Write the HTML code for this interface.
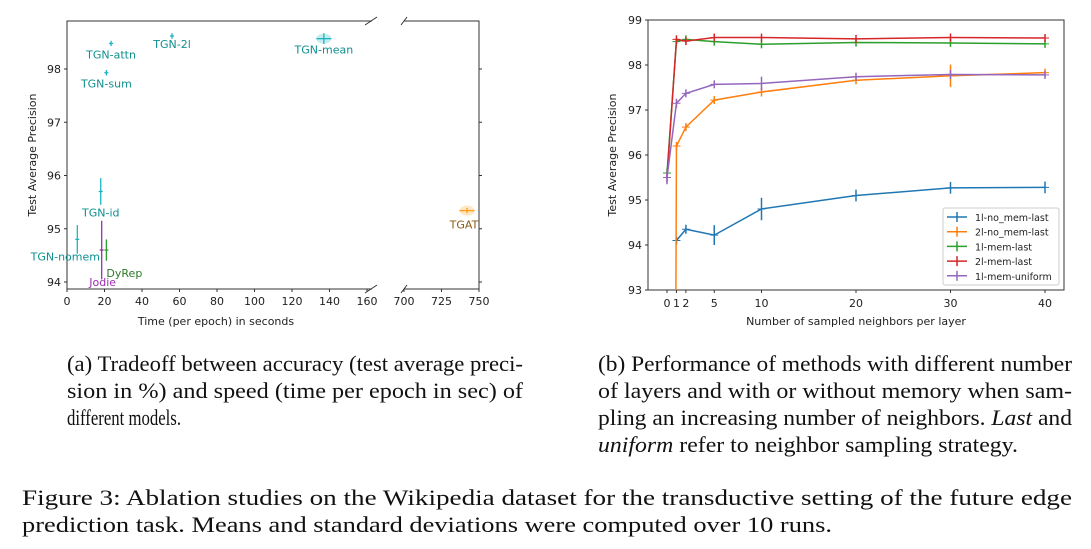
<!DOCTYPE html>
<html><head><meta charset="utf-8"><style>
html,body{margin:0;background:#fff;width:1091px;height:549px;overflow:hidden}
svg{display:block;overflow:hidden}
.t{font-family:"DejaVu Sans",sans-serif;font-size:11px;fill:#222}
.c{font-family:"Liberation Serif",serif;font-size:22px;fill:#111}
</style></head><body>
<svg id="s" width="1091" height="549" xmlns="http://www.w3.org/2000/svg">
<g id="left"></g>
<g id="right"></g>
<g>
<text class="c" x="67" y="371" textLength="456" lengthAdjust="spacingAndGlyphs">(a) Tradeoff between accuracy (test average preci-</text>
<text class="c" x="67" y="398" textLength="456" lengthAdjust="spacingAndGlyphs">sion in %) and speed (time per epoch in sec) of</text>
<text class="c" x="67" y="425" textLength="114" lengthAdjust="spacingAndGlyphs">different models.</text>
<text class="c" x="598" y="371" textLength="474" lengthAdjust="spacingAndGlyphs">(b) Performance of methods with different number</text>
<text class="c" x="598" y="398" textLength="474" lengthAdjust="spacingAndGlyphs">of layers and with or without memory when sam-</text>
<text class="c" x="598" y="425" textLength="474" lengthAdjust="spacingAndGlyphs">pling an increasing number of neighbors. <tspan font-style="italic">Last</tspan> and</text>
<text class="c" x="598" y="452" textLength="420" lengthAdjust="spacingAndGlyphs"><tspan font-style="italic">uniform</tspan> refer to neighbor sampling strategy.</text>
<text class="c" x="22" y="505" textLength="1050" lengthAdjust="spacingAndGlyphs">Figure 3: Ablation studies on the Wikipedia dataset for the transductive setting of the future edge</text>
<text class="c" x="22" y="532" textLength="810" lengthAdjust="spacingAndGlyphs">prediction task. Means and standard deviations were computed over 10 runs.</text>
</g>
</svg>
<script>
// ---- left chart data ----
const modelNames=["TGN-attn","TGN-2l","TGN-mean","TGN-sum","TGN-id","TGN-nomem","Jodie","DyRep","TGAT"];
const modelTime=[23.5,56,137,21,18,5.5,18.5,21,742];
const modelAP=[98.48,98.62,98.57,97.93,95.7,94.8,94.6,94.6,95.34];
const modelTimeErr=[0.5,0.8,4,0.4,0.3,0.2,0.3,0.3,5];
const modelAPErr=[0.05,0.05,0.1,0.05,0.25,0.27,0.55,0.2,0.05];
const leftXTicks=[0,20,40,60,80,100,120,140,160];
const leftXTicks2=[700,725,750];
const leftYTicks=[94,95,96,97,98];
// ---- right chart data ----
const kVals=[0,1,2,5,10,20,30,40];
const seriesNames=["1l-no_mem-last","2l-no_mem-last","1l-mem-last","2l-mem-last","1l-mem-uniform"];
const sNoMem1=[null,94.1,94.35,94.22,94.8,95.1,95.27,95.28];
const sNoMem2=[40,96.2,96.62,97.22,97.4,97.66,97.76,97.83];
const sMem1=[95.6,98.52,98.57,98.52,98.46,98.5,98.49,98.47];
const sMem2=[95.5,98.57,98.53,98.61,98.61,98.58,98.61,98.6];
const sUni=[95.5,97.15,97.37,97.57,97.59,97.74,97.79,97.78];
const eNoMem1=[0,0.05,0.1,0.22,0.25,0.13,0.13,0.13];
const eNoMem2=[0,0.05,0.08,0.05,0.1,0.08,0.25,0.08];
const eMem1=[0.1,0.04,0.04,0.05,0.05,0.04,0.05,0.05];
const eMem2=[0.1,0.04,0.06,0.05,0.05,0.06,0.05,0.06];
const eUni=[0.15,0.1,0.08,0.08,0.15,0.08,0.1,0.08];
const rightXTicks=[0,1,2,5,10,20,30,40];
const rightYTicks=[93,94,95,96,97,98,99];

const NS="http://www.w3.org/2000/svg";
function mk(p,tag,a){const e=document.createElementNS(NS,tag);for(const k in a)e.setAttribute(k,a[k]);p.appendChild(e);return e;}
function txt(p,x,y,s,anchor,extra){const e=mk(p,"text",Object.assign({x:x,y:y,class:"t","text-anchor":anchor||"middle"},extra||{}));e.textContent=s;return e;}

// LEFT
const L=document.getElementById("left");
const lx=v=>v<=160?67+v*300/160:404+(v-700)*75/50;
const ly=v=>282-(v-94)*53.25;
const lTop=21,lBot=289;
mk(L,"path",{d:`M372 ${lTop}H67V${lBot}H372M404 ${lTop}H479V${lBot}H404`,fill:"none",stroke:"#333","stroke-width":1});
mk(L,"path",{d:`M365 ${lTop+4}L377 ${lTop-4}M365 ${lBot+4}L377 ${lBot-4}M401 ${lTop+4}L407 ${lTop-4}M401 ${lBot+4}L407 ${lBot-4}`,stroke:"#333","stroke-width":1});
leftXTicks.forEach(v=>{const g=mk(L,"g",{});mk(g,"line",{x1:lx(v),x2:lx(v),y1:lBot,y2:lBot+3,stroke:"#333"});txt(g,lx(v),lBot+16,String(v));});
leftXTicks2.forEach(v=>{const g=mk(L,"g",{});mk(g,"line",{x1:lx(v),x2:lx(v),y1:lBot,y2:lBot+3,stroke:"#333"});txt(g,lx(v),lBot+16,String(v));});
leftYTicks.forEach(v=>{const g=mk(L,"g",{});mk(g,"line",{x1:64,x2:67,y1:ly(v),y2:ly(v),stroke:"#333"});mk(g,"line",{x1:479,x2:482,y1:ly(v),y2:ly(v),stroke:"#333"});txt(g,61,ly(v)+4,String(v),"end");});
let e=txt(L,216,325,"Time (per epoch) in seconds");
e=txt(L,36,155,"Test Average Precision","middle",{transform:"rotate(-90 36 155)"});
const mColors=["#17b5c0","#17b5c0","#17b5c0","#17b5c0","#17b5c0","#17b5c0","#9b2fae","#2ca02c","#ff9f1a"];
const lblColors=["#0f8f8f","#0f8f8f","#0f8f8f","#0f8f8f","#0f8f8f","#0f8f8f","#9b2fae","#2a7a2a","#8a5a10"];
const lblOff=[[0,15],[0,12],[0,15],[0,15],[0,25],[-12,21],[1,36],[18,27],[-3,18]];
modelNames.forEach((n,i)=>{const g=mk(L,"g",{});
 const x=lx(modelTime[i]),y=ly(modelAP[i]);const hx=Math.max(2,Math.abs(lx(modelTime[i]+modelTimeErr[i])-x));const hy=Math.max(2,modelAPErr[i]*53.25);
 if(hx>5)mk(g,"ellipse",{cx:x,cy:y,rx:hx,ry:5,fill:mColors[i],opacity:0.25});
 mk(g,"line",{x1:x-hx,x2:x+hx,y1:y,y2:y,stroke:mColors[i],"stroke-width":1.3});
 mk(g,"line",{x1:x,x2:x,y1:y-hy,y2:y+hy,stroke:mColors[i],"stroke-width":1.3});
 txt(g,x+lblOff[i][0],y+lblOff[i][1],n,"middle",{style:"fill:"+lblColors[i]});});

// RIGHT
const R=document.getElementById("right");
const rx=v=>667+v*9.45;
const ry=v=>290-(v-93)*45;
mk(R,"defs",{}).innerHTML='<clipPath id="rc"><rect x="648" y="20" width="416" height="270"/></clipPath>';
mk(R,"rect",{x:648,y:20,width:416,height:270,fill:"none",stroke:"#333"});
rightXTicks.forEach(v=>{const g=mk(R,"g",{});mk(g,"line",{x1:rx(v),x2:rx(v),y1:290,y2:293,stroke:"#333"});txt(g,rx(v),307,String(v));});
rightYTicks.forEach(v=>{const g=mk(R,"g",{});mk(g,"line",{x1:645,x2:648,y1:ry(v),y2:ry(v),stroke:"#333"});txt(g,642,ry(v)+4,String(v),"end");});
e=txt(R,856,325,"Number of sampled neighbors per layer");
e=txt(R,616,155,"Test Average Precision","middle",{transform:"rotate(-90 616 155)"});
const sData=[sNoMem1,sNoMem2,sMem1,sMem2,sUni],sErr=[eNoMem1,eNoMem2,eMem1,eMem2,eUni];
const sCol=["#1f77b4","#ff7f0e","#2ca02c","#d62728","#9467bd"];
const clipG=mk(R,"g",{"clip-path":"url(#rc)"});
sData.forEach((d,si)=>{const g=mk(clipG,"g",{});
 let p="";d.forEach((v,i)=>{if(v==null)return;p+=(p?"L":"M")+rx(kVals[i])+" "+ry(v);});
 mk(g,"path",{d:p,fill:"none",stroke:sCol[si],"stroke-width":1.5});
 d.forEach((v,i)=>{if(v==null)return;const x=rx(kVals[i]),y=ry(v),h=Math.max(4,sErr[si][i]*45);
  mk(g,"line",{x1:x,x2:x,y1:y-h,y2:y+h,stroke:sCol[si],"stroke-width":1.5});
  mk(g,"line",{x1:x-4,x2:x+4,y1:y,y2:y,stroke:sCol[si],"stroke-width":1});});});
const lg=mk(R,"g",{});
mk(lg,"rect",{x:943,y:208,width:116,height:77,fill:"#fff",stroke:"#ccc",rx:2});
seriesNames.forEach((n,i)=>{const g=mk(lg,"g",{});
 const y=217+i*14.7;mk(g,"line",{x1:947,x2:967,y1:y,y2:y,stroke:sCol[i],"stroke-width":1.5});mk(g,"line",{x1:957,x2:957,y1:y-5,y2:y+5,stroke:sCol[i],"stroke-width":1.5});
 txt(g,975,y+4,n,"start",{style:"font-size:9.5px"});});
</script>
</body></html>
